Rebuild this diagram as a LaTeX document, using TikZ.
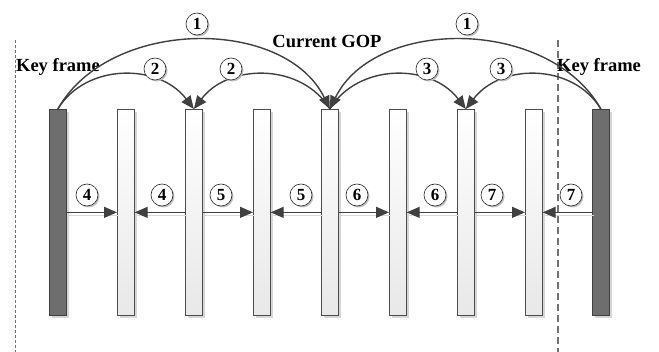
\documentclass[tikz,border=0pt]{standalone}
\usepackage{fontspec}
\setmainfont{Liberation Serif}
\usetikzlibrary{arrows.meta,shadows}
\begin{document}
\begin{tikzpicture}[x=1pt,y=-1pt,
  bar/.style={draw=black!70, line width=0.7pt, top color=white, bottom color=black!9,
    minimum width=17pt, minimum height=206pt, inner sep=0pt, anchor=north west,
    drop shadow={shadow xshift=3pt, shadow yshift=-3pt, fill=black!16, opacity=1}},
  keybar/.style={draw=black!75, line width=0.7pt, fill=black!57,
    minimum width=17pt, minimum height=206pt, inner sep=0pt, anchor=north west,
    drop shadow={shadow xshift=3pt, shadow yshift=-3pt, fill=black!16, opacity=1}},
  conn/.style={draw=black!75, line width=1.4pt, -{Triangle[length=13pt,width=11pt]}},
  hconn/.style={conn, preaction={draw=black!15, line width=0.8pt, -, transform canvas={shift={(2pt,-3pt)}}}},
  num/.style={circle, draw=black!85, line width=0.6pt, fill=white, minimum size=22pt,
    inner sep=0pt, font=\bfseries\fontsize{17}{17}\selectfont,
    drop shadow={shadow xshift=1.5pt, shadow yshift=-1.5pt, fill=black!25, opacity=1}},
  lbl/.style={font=\bfseries\fontsize{18.5}{18.5}\selectfont, inner sep=0pt},
  sep/.style={draw=black!55, dashed}
]
\useasboundingbox (0,0) rectangle (659,352);

% separators
\coordinate (dlt) at (15,40);  \coordinate (dlb) at (15,352);
\coordinate (drt) at (558,40); \coordinate (drb) at (558,352);
\draw[sep, line width=0.5pt, dash pattern=on 3pt off 2pt] (dlt) -- (dlb);
\draw[sep, line width=1.1pt, dash pattern=on 7pt off 4pt] (drt) -- (drb);

% frames
\node[keybar] (b1) at (49,109) {};
\node[bar]    (b2) at (117,109) {};
\node[bar]    (b3) at (185,109) {};
\node[bar]    (b4) at (253,109) {};
\node[bar]    (b5) at (321,109) {};
\node[bar]    (b6) at (389,109) {};
\node[bar]    (b7) at (457,109) {};
\node[bar]    (b8) at (525,109) {};
\node[keybar] (b9) at (592,109) {};

% labels
\node[lbl] (kf1) at (58,67) {Key frame};
\node[lbl, anchor=west] (kf2) at (557,67) {Key frame};
\node[lbl] (gop) at (327,41) {Current GOP};

% long arcs
\draw[conn] (b1.north) .. controls +(52,-92) and +(-45,-92) .. (b5.north);
\draw[conn] (b9.north) .. controls +(-52,-92) and +(45,-92) .. (b5.north);
% short arcs
\draw[conn] (b1.north) .. controls +(28,-46) and +(-35,-46) .. (b3.north);
\draw[conn] (b5.north) .. controls +(-28,-46) and +(35,-46) .. (b3.north);
\draw[conn] (b5.north) .. controls +(28,-46) and +(-35,-46) .. (b7.north);
\draw[conn] (b9.north) .. controls +(-28,-46) and +(35,-46) .. (b7.north);

% horizontal arrows
\draw[hconn] (b1.east) -- (b2.west);
\draw[hconn] (b3.west) -- (b2.east);
\draw[hconn] (b3.east) -- (b4.west);
\draw[hconn] (b5.west) -- (b4.east);
\draw[hconn] (b5.east) -- (b6.west);
\draw[hconn] (b7.west) -- (b6.east);
\draw[hconn] (b7.east) -- (b8.west);
\draw[hconn] (b9.west) -- (b8.east);

% number circles
\node[num] (n1a) at (197,24) {1};
\node[num] (n1b) at (467,24) {1};
\node[num] (n2a) at (155,69) {2};
\node[num] (n2b) at (231,69) {2};
\node[num] (n3a) at (427,69) {3};
\node[num] (n3b) at (501,69) {3};
\node[num] (n4a) at (87,195) {4};
\node[num] (n4b) at (162,195) {4};
\node[num] (n5a) at (221,195) {5};
\node[num] (n5b) at (301,195) {5};
\node[num] (n6a) at (357,195) {6};
\node[num] (n6b) at (435,195) {6};
\node[num] (n7a) at (492,195) {7};
\node[num] (n7b) at (571,195) {7};
\end{tikzpicture}
\end{document}
